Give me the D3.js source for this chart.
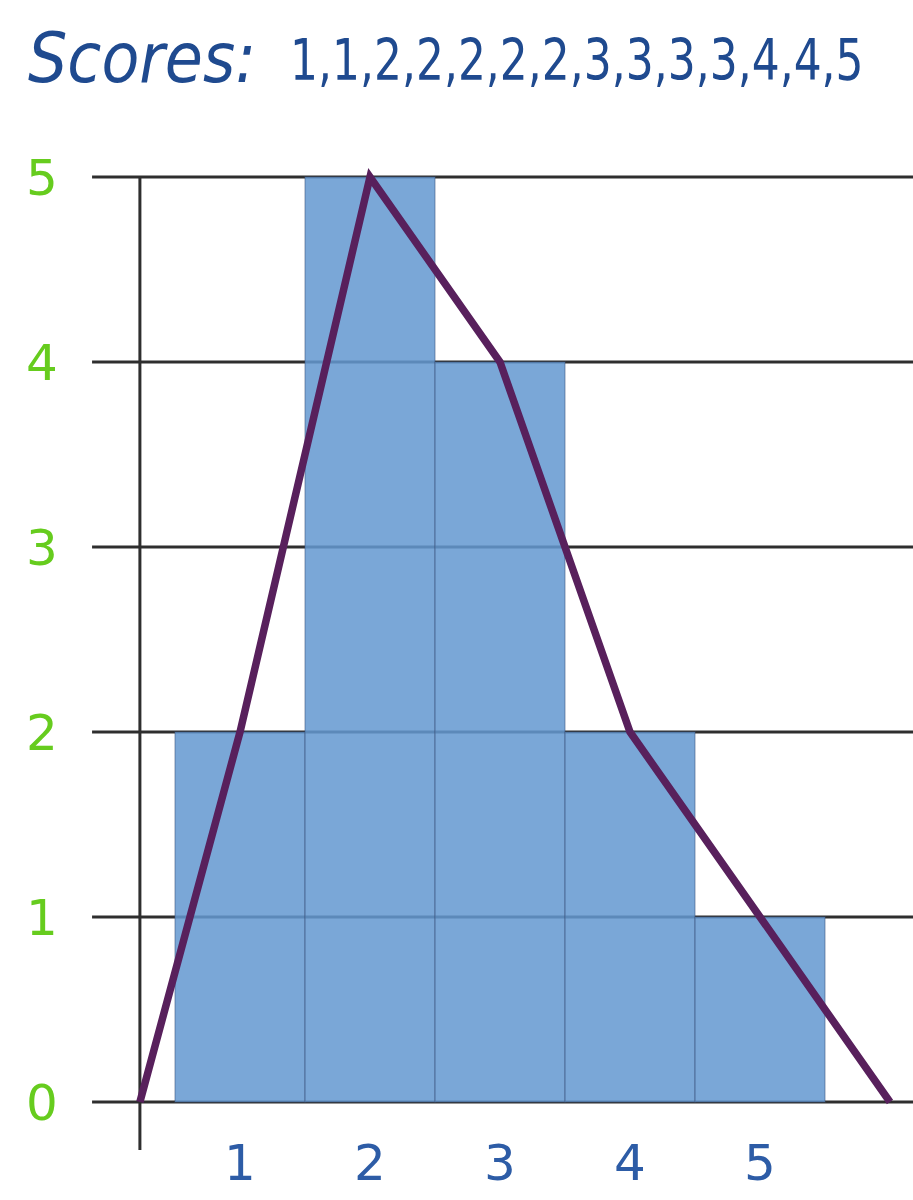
<!DOCTYPE html>
<html>
<head>
<meta charset="utf-8">
<script src="https://cdn.jsdelivr.net/npm/d3@7"></script>
<style>
  html, body { margin: 0; padding: 0; background: #ffffff; }
  svg { display: block; }
</style>
</head>
<body>
<script>
// ---- data ----
const titleLabel = "Scores:";
const scores = [1,1,2,2,2,2,2,3,3,3,3,4,4,5];
const categories = [1, 2, 3, 4, 5];
const frequencies = [2, 5, 4, 2, 1];
const yTicks = [0, 1, 2, 3, 4, 5];
const xTickLabels = ["1", "2", "3", "4", "5"];
// frequency polygon (x in score units; first point sits on the vertical axis)
const polygonX = [0.23, 1, 2, 3, 4, 5, 6];
const polygonY = [0, 2, 5, 4, 2, 1, 0];

// ---- layout ----
const W = 913, H = 1200;
const svg = d3.select("body").append("svg").attr("width", W).attr("height", H);

const x = d3.scaleLinear().domain([0, 6]).range([110, 890]);
const y = d3.scaleLinear().domain([0, 5]).range([1102, 177]);
const axisX = x(polygonX[0]);
const gridLeft = x(-0.138), gridRight = W;

const gridColor = "#2e2e2e";
const hand = "'DejaVu Sans', 'Noto Sans', sans-serif";

// horizontal grid lines
svg.append("g").selectAll("line").data(yTicks).join("line")
  .attr("x1", gridLeft).attr("x2", gridRight)
  .attr("y1", d => y(d)).attr("y2", d => y(d))
  .attr("stroke", gridColor).attr("stroke-width", 3);

// vertical axis
svg.append("line")
  .attr("x1", axisX).attr("x2", axisX)
  .attr("y1", y(5)).attr("y2", y(0) + 48)
  .attr("stroke", gridColor).attr("stroke-width", 3);

// bars
const bars = categories.map((c, i) => ({ c, f: frequencies[i] }));
svg.append("g").selectAll("rect").data(bars).join("rect")
  .attr("x", d => x(d.c - 0.5))
  .attr("width", d => x(d.c + 0.5) - x(d.c - 0.5))
  .attr("y", d => y(d.f))
  .attr("height", d => y(0) - y(d.f))
  .attr("fill", "rgb(100,152,209)")
  .attr("fill-opacity", 0.86)
  .attr("stroke", "rgba(60,85,125,0.4)")
  .attr("stroke-width", 1.5);

// frequency polygon
const pts = polygonX.map((v, i) => [v, polygonY[i]]);
svg.append("path")
  .attr("d", d3.line().x(d => x(d[0])).y(d => y(d[1]))(pts))
  .attr("fill", "none")
  .attr("stroke", "#58205c")
  .attr("stroke-width", 7.5)
  .attr("stroke-linejoin", "miter");

// y tick labels
svg.append("g").selectAll("text").data(yTicks).join("text")
  .attr("x", 42).attr("y", d => y(d))
  .attr("dy", "0.36em")
  .attr("text-anchor", "middle")
  .attr("font-family", hand).attr("font-size", 50)
  .attr("fill", "#66cc1e")
  .text(d => d);

// x tick labels
svg.append("g").selectAll("text").data(categories).join("text")
  .attr("x", d => x(d)).attr("y", 1180)
  .attr("text-anchor", "middle")
  .attr("font-family", hand).attr("font-size", 50)
  .attr("fill", "#2d5ca6")
  .text((d, i) => xTickLabels[i]);

// title
svg.append("text")
  .attr("transform", "translate(28,82) scale(1,1.12)")
  .attr("font-family", hand).attr("font-size", 62)
  .attr("font-style", "italic")
  .attr("fill", "#1f4a8f")
  .text(titleLabel);
svg.append("text")
  .attr("transform", "translate(290,80) scale(1,1.3)")
  .attr("font-family", hand).attr("font-size", 44)
  .attr("fill", "#1f4a8f")
  .text(scores.join(","));
</script>
</body>
</html>
